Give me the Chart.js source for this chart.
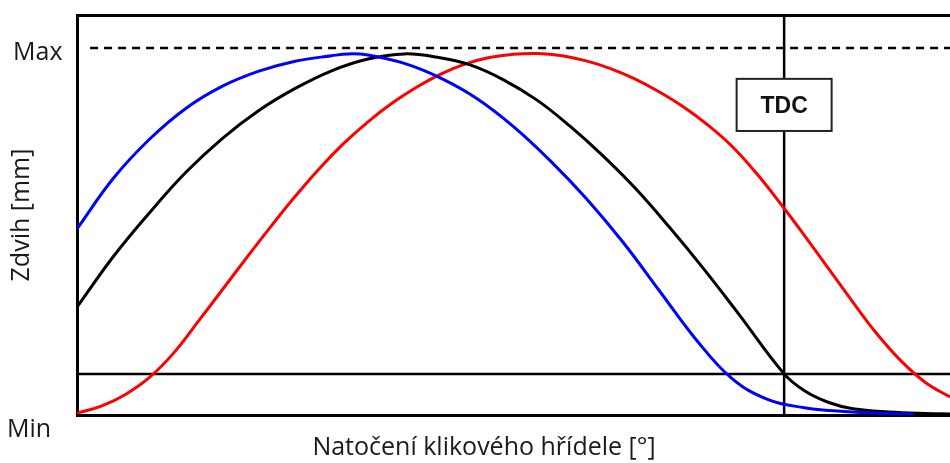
<!DOCTYPE html>
<html>
<head>
<meta charset="utf-8">
<script src="https://cdn.jsdelivr.net/npm/chart.js@4.4.1/dist/chart.umd.min.js"></script>
<style>
  html, body { margin: 0; padding: 0; background: #ffffff; overflow: hidden; }
  canvas { display: block; }
</style>
</head>
<body>
<canvas id="lift" width="950" height="463"></canvas>
<script>
// Valve lift vs. crank angle: three cam timings (blue = earliest, red = latest).
// Lift is normalised: 0 = Min, 1 = Max.

const angleBlue = [0, 15, 30, 45, 60, 75, 90, 105, 112, 120, 135, 150, 165, 180, 195, 210, 225, 240, 255, 270, 285, 300, 315, 330, 345];
const liftBlue  = [0.507, 0.645, 0.752, 0.836, 0.896, 0.937, 0.964, 0.979, 0.984, 0.981, 0.958, 0.918, 0.862, 0.786, 0.694, 0.590, 0.472, 0.340, 0.208, 0.100, 0.042, 0.020, 0.010, 0.005, 0.003];

const angleBlack = [0, 15, 30, 45, 60, 75, 90, 105, 120, 135, 148.5, 162.1, 175.7, 189.7, 203.3, 216.9, 230.9, 244.5, 258.1, 272.2, 291.6, 300, 310, 320, 335, 350, 360];
const liftBlack  = [0.294, 0.432, 0.552, 0.662, 0.754, 0.830, 0.890, 0.938, 0.970, 0.984, 0.975, 0.954, 0.914, 0.858, 0.787, 0.706, 0.613, 0.510, 0.401, 0.281, 0.112, 0.066, 0.034, 0.017, 0.008, 0.004, 0.003];

const angleRed = [0, 10, 20, 30, 40, 50, 60, 70, 80, 90, 100, 110, 120, 130, 140, 150, 160, 170, 180, 190, 200, 210, 220, 230, 240, 250, 260, 270, 280, 290, 300, 310, 320, 330, 340, 350, 360];
const liftRed  = [0.005, 0.024, 0.056, 0.103, 0.170, 0.255, 0.342, 0.429, 0.514, 0.596, 0.672, 0.740, 0.799, 0.850, 0.893, 0.929, 0.956, 0.974, 0.983, 0.985, 0.979, 0.965, 0.944, 0.916, 0.881, 0.840, 0.791, 0.733, 0.660, 0.577, 0.489, 0.398, 0.307, 0.220, 0.146, 0.088, 0.049];

// Reference levels and markers
const liftLevels = { min: 0, max: 1, threshold: 0.112 };
const levelLabels = ['Min', 'Max'];
const tdcAngle = 291.6;
const angleRange = [0, 360];
const liftTop = 1.09;
const maxLineStart = 5.4;

const toPoints = (xs, ys) => xs.map((x, i) => ({ x, y: ys[i] }));

const curve = (label, xs, ys, color, order) => ({
  label,
  data: toPoints(xs, ys),
  borderColor: color,
  borderWidth: 3,
  pointRadius: 0,
  fill: false,
  tension: 0.4,
  order
});

const refLine = (label, pts, width, dash, order) => ({
  label,
  data: pts,
  borderColor: '#000000',
  borderWidth: width,
  borderDash: dash,
  pointRadius: 0,
  fill: false,
  tension: 0,
  order
});

const textFont = '"Open Sans", sans-serif';

// Level labels, TDC marker box and the horizontal axis title
const annotations = {
  id: 'annotations',
  afterDatasetsDraw(chart) {
    const { ctx, scales: { x, y } } = chart;
    ctx.save();

    // TDC box on the vertical marker
    const cx = x.getPixelForValue(tdcAngle);
    const boxTop = y.getPixelForValue(0.916);
    const boxBottom = y.getPixelForValue(0.774);
    const boxW = 95;
    ctx.fillStyle = '#ffffff';
    ctx.fillRect(cx - boxW / 2, boxTop, boxW, boxBottom - boxTop);
    ctx.strokeStyle = '#222222';
    ctx.lineWidth = 2;
    ctx.strokeRect(cx - boxW / 2, boxTop, boxW, boxBottom - boxTop);
    ctx.fillStyle = '#111111';
    ctx.font = 'bold 23px "Liberation Sans", Arial, sans-serif';
    ctx.textAlign = 'center';
    ctx.textBaseline = 'middle';
    ctx.fillText('TDC', cx, (boxTop + boxBottom) / 2 + 2);

    // Min / Max labels
    ctx.font = '25px ' + textFont;
    ctx.textAlign = 'left';
    ctx.textBaseline = 'alphabetic';
    ctx.fillStyle = '#1a1a1a';
    ctx.fillText(levelLabels[1], 13, y.getPixelForValue(liftLevels.max) + 12);
    ctx.fillText(levelLabels[0], 7, y.getPixelForValue(liftLevels.min) + 22);

    // x-axis title
    ctx.textAlign = 'center';
    ctx.fillText('Natočení klikového hřídele [°]', 484, 455);
    ctx.restore();
  }
};

new Chart(document.getElementById('lift'), {
  type: 'line',
  data: {
    datasets: [
      curve('Blue', angleBlue, liftBlue, '#0000ff', 1),
      curve('Black', angleBlack, liftBlack, '#000000', 2),
      curve('Red', angleRed, liftRed, '#ff0000', 3),
      refLine('Max', [{ x: maxLineStart, y: liftLevels.max }, { x: angleRange[1], y: liftLevels.max }], 2.5, [8, 6], 10),
      refLine('Threshold', [{ x: angleRange[0], y: liftLevels.threshold }, { x: angleRange[1], y: liftLevels.threshold }], 2.5, [], 11),
      refLine('TDC', [{ x: tdcAngle, y: liftLevels.min }, { x: tdcAngle, y: liftTop }], 2.5, [], 12)
    ]
  },
  options: {
    responsive: false,
    animation: false,
    devicePixelRatio: 1,
    layout: { padding: 0 },
    plugins: {
      legend: { display: false },
      tooltip: { enabled: false }
    },
    scales: {
      x: {
        type: 'linear',
        position: 'bottom',
        min: angleRange[0],
        max: angleRange[1],
        grid: { display: false },
        border: { display: true, color: '#000000', width: 3 },
        ticks: { display: false },
        afterFit(scale) { scale.height = 48; }
      },
      xTop: {
        type: 'linear',
        axis: 'x',
        position: 'top',
        min: angleRange[0],
        max: angleRange[1],
        grid: { display: false },
        border: { display: true, color: '#000000', width: 3 },
        ticks: { display: false },
        afterFit(scale) { scale.height = 15; }
      },
      y: {
        type: 'linear',
        position: 'left',
        min: liftLevels.min,
        max: liftTop,
        grid: { display: false },
        border: { display: true, color: '#000000', width: 3 },
        ticks: { display: false },
        title: {
          display: true,
          text: 'Zdvih [mm]',
          color: '#1a1a1a',
          font: { family: textFont, size: 25 },
          padding: { top: 7, bottom: 0 }
        },
        afterFit(scale) { scale.width = 77; }
      }
    }
  },
  plugins: [annotations]
});
</script>
</body>
</html>
